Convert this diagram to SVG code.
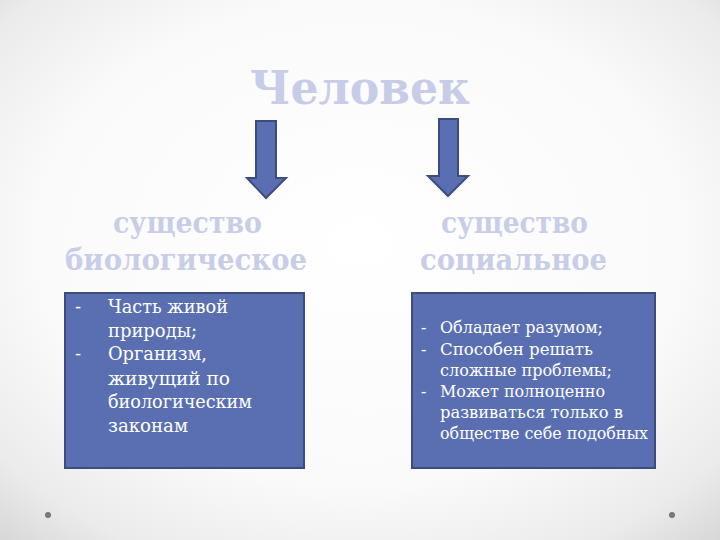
<svg xmlns="http://www.w3.org/2000/svg" width="720" height="540" viewBox="0 0 720 540">
<defs>
<radialGradient id="bg" cx="50%" cy="45%" r="75%">
<stop offset="0" stop-color="#ffffff"/>
<stop offset="0.6" stop-color="#fafafa"/>
<stop offset="0.85" stop-color="#ebebeb"/>
<stop offset="1" stop-color="#d6d6d6"/>
</radialGradient>
</defs>
<style>
.title{font-family:"DejaVu Serif","Liberation Serif",serif;font-weight:bold;fill:#c7cde8}
.head{font-family:"DejaVu Serif","Liberation Serif",serif;font-weight:bold;fill:#c9cee8;font-size:29px}
.box{fill:#5a6fb1;stroke:#3d4c7e;stroke-width:2}
.arrow{fill:#5a6fb1;stroke:#3d4c7e;stroke-width:2;stroke-linejoin:miter}
.txt{font-family:"DejaVu Serif","Liberation Serif",serif;fill:#ffffff}
</style>
<rect width="720" height="540" fill="url(#bg)"/>
<circle cx="48" cy="515" r="3" fill="#777"/>
<circle cx="672" cy="515" r="3" fill="#777"/>
<g id="title"><text class="title" x="250" y="104" font-size="46" textLength="220" lengthAdjust="spacingAndGlyphs">Человек</text></g>
<g id="connectors">
<polygon class="arrow" points="256,121 276,121 276,178 286,178 266,198 247,178 256,178"/>
<polygon class="arrow" points="439,119 458,119 458,176 468,176 448,196 428,176 439,176"/>
</g>
<g id="bio-head"><text class="head" x="113" y="233" textLength="149" lengthAdjust="spacingAndGlyphs">существо</text><text class="head" x="65" y="270" textLength="242" lengthAdjust="spacingAndGlyphs">биологическое</text></g>
<g id="soc-head"><text class="head" x="441" y="233" textLength="147" lengthAdjust="spacingAndGlyphs">существо</text><text class="head" x="420" y="270" textLength="187" lengthAdjust="spacingAndGlyphs">социальное</text></g>
<g id="bio-box">
<rect class="box" x="65" y="293" width="239" height="175"/>
<g class="txt" font-size="18">
<text x="75" y="313">-</text><text x="108" y="313" textLength="120" lengthAdjust="spacingAndGlyphs">Часть живой</text>
<text x="108" y="337" textLength="89" lengthAdjust="spacingAndGlyphs">природы;</text>
<text x="75" y="360">-</text><text x="108" y="360" textLength="99" lengthAdjust="spacingAndGlyphs">Организм,</text>
<text x="108" y="385" textLength="122" lengthAdjust="spacingAndGlyphs">живущий по</text>
<text x="108" y="408" textLength="144" lengthAdjust="spacingAndGlyphs">биологическим</text>
<text x="108" y="432" textLength="80" lengthAdjust="spacingAndGlyphs">законам</text>
</g>
</g>
<g id="soc-box">
<rect class="box" x="412" y="293" width="243" height="175"/>
<g class="txt" font-size="16">
<text x="421" y="333">-</text><text x="440" y="333" textLength="163" lengthAdjust="spacingAndGlyphs">Обладает разумом;</text>
<text x="421" y="355">-</text><text x="440" y="355" textLength="153" lengthAdjust="spacingAndGlyphs">Способен решать</text>
<text x="440" y="376" textLength="172" lengthAdjust="spacingAndGlyphs">сложные проблемы;</text>
<text x="421" y="397">-</text><text x="440" y="397" textLength="165" lengthAdjust="spacingAndGlyphs">Может полноценно</text>
<text x="440" y="418" textLength="183" lengthAdjust="spacingAndGlyphs">развиваться только в</text>
<text x="440" y="439" textLength="208" lengthAdjust="spacingAndGlyphs">обществе себе подобных</text>
</g>
</g>
</svg>
